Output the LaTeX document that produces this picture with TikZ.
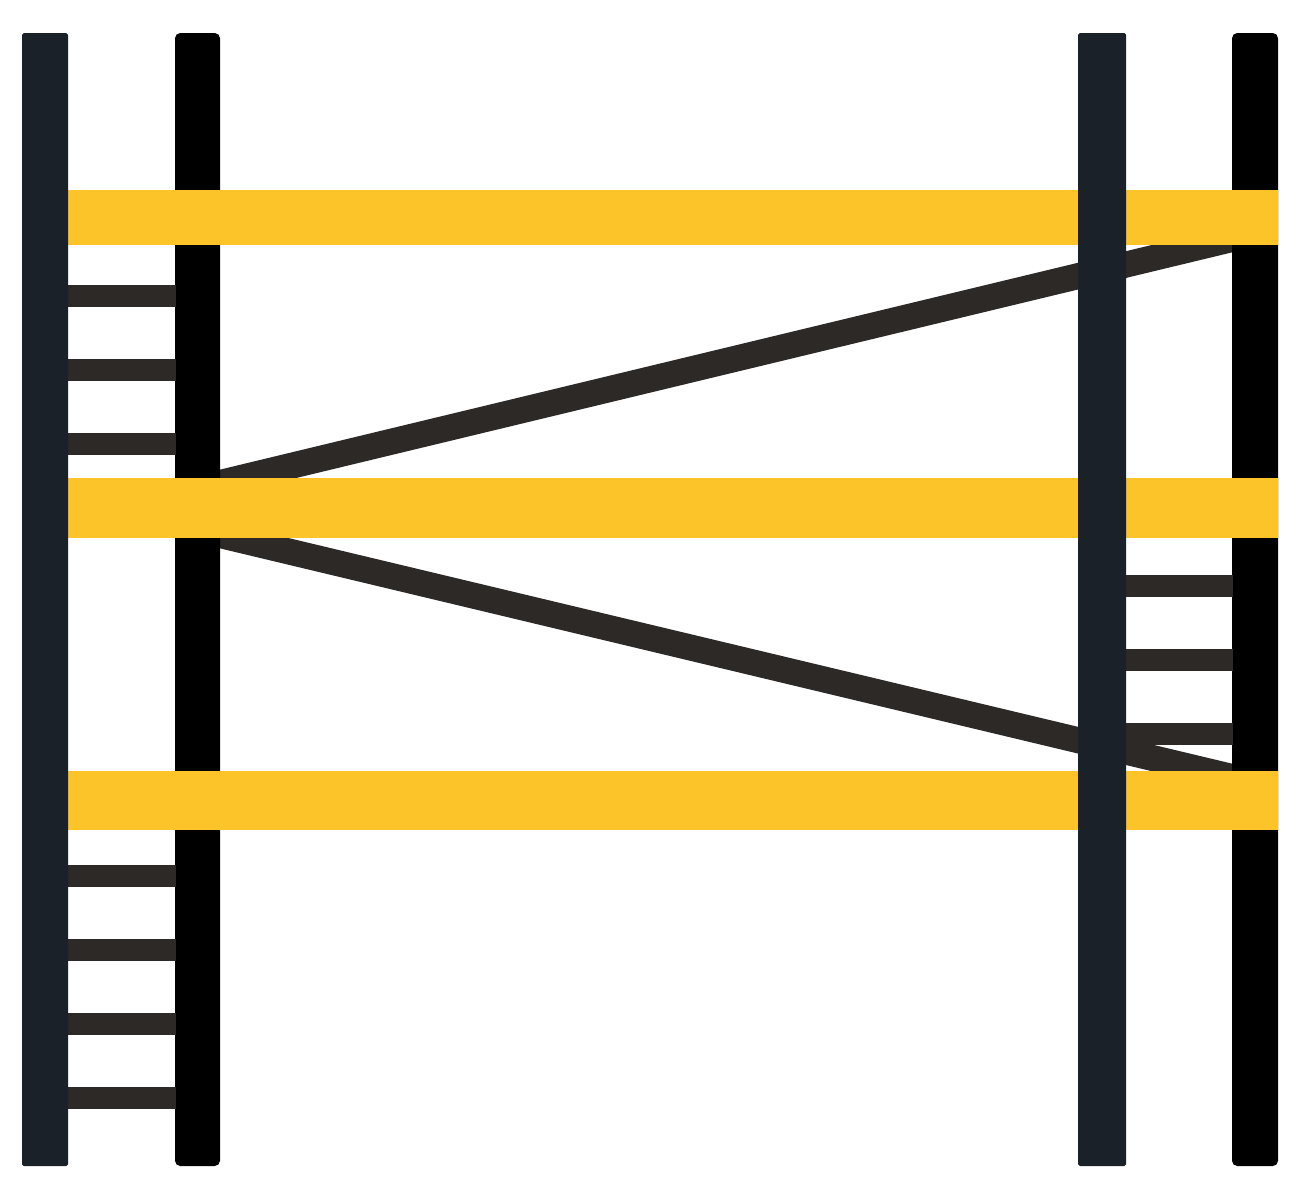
\documentclass[tikz,border=0pt]{standalone}
\definecolor{postdark}{HTML}{1B2128}
\definecolor{postblack}{HTML}{000000}
\definecolor{plankyellow}{HTML}{FDC429}
\definecolor{rungbrown}{HTML}{2D2926}
\tikzset{
  darkpost/.style={fill=postdark, draw=none, rounded corners=1pt},
  blackpost/.style={fill=postblack, draw=none, rounded corners=3pt},
  plank/.style={fill=plankyellow, draw=none},
  rung/.style={fill=rungbrown, draw=none},
  brace/.style={draw=rungbrown, line width=26*0.02cm, line cap=butt},
}
\begin{document}
\begin{tikzpicture}[x=0.02cm, y=-0.02cm]
\useasboundingbox (0,0) rectangle (1300,1200);
% diagonal braces
\coordinate (bA) at (220,483);
\coordinate (bB) at (1232,239);
\coordinate (bC) at (220,535);
\coordinate (bD) at (1232,777);
\draw[brace] (bA) -- (bB);
\draw[brace] (bC) -- (bD);
% black posts
\fill[blackpost] (175,33) rectangle (220,1166);
\fill[blackpost] (1232,33) rectangle (1278,1166);
% rungs left
\foreach \y in {296,370,444,876,950,1024,1098}
  \fill[rung] (68,\y-11) rectangle (176,\y+11);
% rungs right
\foreach \y in {586,660,734}
  \fill[rung] (1125,\y-11) rectangle (1233,\y+11);
% planks
\fill[plank] (68,190) rectangle (1278,245);
\fill[plank] (68,478) rectangle (1278,538);
\fill[plank] (68,771) rectangle (1278,830);
% dark posts
\fill[darkpost] (22,33) rectangle (68,1166);
\fill[darkpost] (1078,33) rectangle (1126,1166);
\end{tikzpicture}
\end{document}
